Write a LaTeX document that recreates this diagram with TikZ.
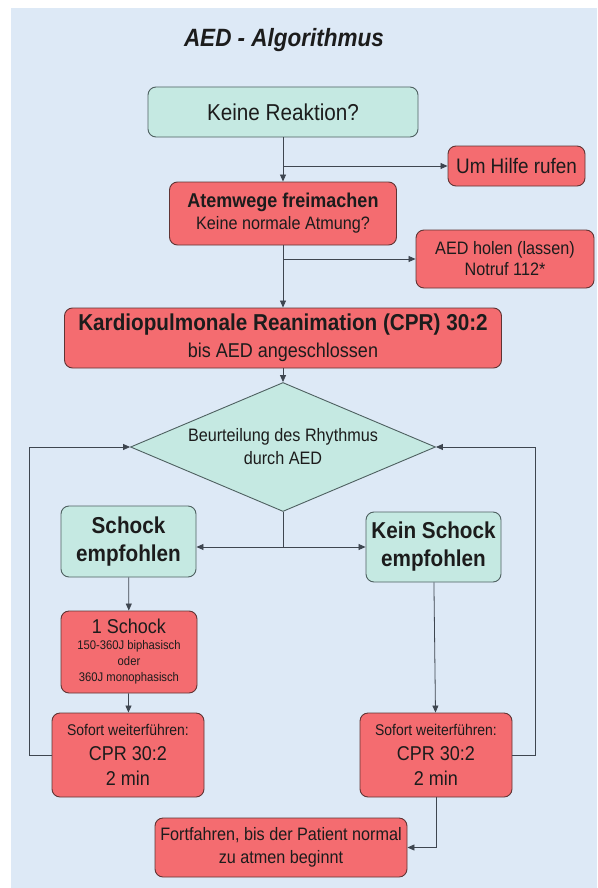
\documentclass[tikz,border=0pt]{standalone}
\usepackage{fontspec}
\setmainfont{Liberation Sans}[FakeStretch=0.9]
\usepackage{tikz}
\usetikzlibrary{arrows.meta,shapes.geometric,calc}
\usepackage{xcolor}
\definecolor{paper}{RGB}{221,233,246}
\definecolor{tealfill}{RGB}{197,233,226}
\definecolor{tealline}{RGB}{78,96,96}
\definecolor{redfill}{RGB}{244,108,112}
\definecolor{redline}{RGB}{96,52,52}
\definecolor{ink}{RGB}{28,28,28}
\definecolor{wire}{RGB}{62,70,80}
\newcommand{\fsz}[2]{\fontsize{#1}{#2}\selectfont}
\tikzset{
  box/.style={rounded corners=8pt,align=center,inner sep=2pt,text=ink,line width=0.9pt},
  tealbox/.style={box,draw=tealline,fill=tealfill},
  redbox/.style={box,draw=redline,fill=redfill},
  flow/.style={-{Triangle[length=7pt,width=6pt]},line width=0.8pt,draw=wire},
  wireline/.style={line width=0.8pt,draw=wire}
}

\begin{document}
\begin{tikzpicture}[x=1pt,y=-1pt]
\useasboundingbox (0,0) rectangle (597,888);
\fill[paper] (11,8) rectangle (597,888);

\node[text=ink,font={\fsz{25}{28}\bfseries\itshape}] (title) at (284,40) {AED - Algorithmus};

\node[tealbox,minimum width=270pt,minimum height=50pt,font=\fsz{23}{26}] (reaktion) at (283,112) {Keine Reaktion?};
\node[redbox,minimum width=137pt,minimum height=40pt,font=\fsz{21}{24}] (hilfe) at (516.5,166) {Um Hilfe rufen};
\node[redbox,minimum width=227pt,minimum height=63pt,font=\fsz{18}{22}] (atemwege) at (283,213.5)
  {{\fsz{20}{22}\bfseries Atemwege freimachen}\\Keine normale Atmung?};
\node[redbox,minimum width=178pt,minimum height=58pt,font=\fsz{18}{21}] (aedholen) at (505,259)
  {AED holen (lassen)\\Notruf 112*};
\node[redbox,minimum width=437pt,minimum height=60pt,font=\fsz{20}{27}] (cpr) at (283,338)
  {{\fsz{23}{27}\bfseries Kardiopulmonale Reanimation (CPR) 30:2}\\bis AED angeschlossen};
\node[tealbox,shape=diamond,shape aspect=2.36,rounded corners=0pt,inner sep=0pt,minimum width=305pt,minimum height=129pt,font=\fsz{18}{23}] (rhythmus) at (283,447)
  {Beurteilung des Rhythmus\\durch AED};
\node[tealbox,minimum width=135pt,minimum height=71pt,font={\fsz{23}{28}\bfseries}] (schock) at (128.5,541.5)
  {Schock\\empfohlen};
\node[tealbox,minimum width=135pt,minimum height=70pt,font={\fsz{23}{28}\bfseries}] (keinschock) at (433.5,547)
  {Kein Schock\\empfohlen};
\node[redbox,minimum width=136pt,minimum height=82pt,font=\fsz{12.5}{16}] (einschock) at (129,652)
  {{\fsz{20}{20}1 Schock}\\150-360J biphasisch\\oder\\360J monophasisch};
\node[redbox,minimum width=152pt,minimum height=84pt,font=\fsz{20}{25}] (sofortL) at (128,755)
  {{\fsz{15.5}{25}Sofort weiterführen:}\\CPR 30:2\\2 min};
\node[redbox,minimum width=152pt,minimum height=84pt,font=\fsz{20}{25}] (sofortR) at (436,755)
  {{\fsz{15.5}{25}Sofort weiterführen:}\\CPR 30:2\\2 min};
\node[redbox,minimum width=252pt,minimum height=59pt,font=\fsz{18}{23}] (fortfahren) at (281,847.5)
  {Fortfahren, bis der Patient normal\\zu atmen beginnt};

% main line
\coordinate (gabel1) at (reaktion.south |- hilfe.west);
\coordinate (gabel2) at (atemwege.south |- aedholen.west);
\coordinate (gabel3) at (rhythmus.south |- keinschock.west);
\draw[flow] (reaktion) -- (atemwege);
\draw[flow] (gabel1) -- (hilfe.west);
\draw[flow] (atemwege) -- (cpr);
\draw[flow] (gabel2) -- (aedholen.west);
\draw[flow] (cpr) -- (rhythmus);
\draw[wireline] (rhythmus.south) -- (gabel3);
\draw[flow] (gabel3) -- (gabel3 -| schock.east);
\draw[flow] (gabel3) -- (keinschock.west);

% shock branch
\draw[flow] (schock) -- (einschock);
\draw[flow] (einschock) -- (sofortL);
\draw[flow] (sofortL.west) -- ++(-22,0) |- (rhythmus.west);

% no shock branch
\draw[flow] (keinschock) -- (sofortR);
\draw[flow] (sofortR.east) -- ++(23,0) |- (rhythmus.east);
\draw[flow] (sofortR.south) |- (fortfahren.east);
\end{tikzpicture}
\end{document}
